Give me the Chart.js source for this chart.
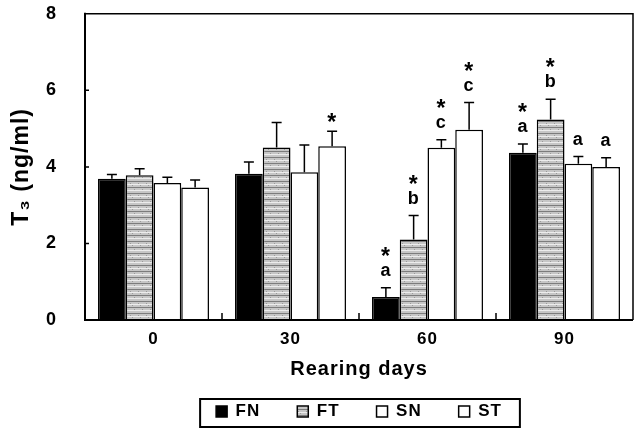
<!DOCTYPE html>
<html><head><meta charset="utf-8">
<script src="https://cdn.jsdelivr.net/npm/chart.js@4"></script>
<style>html,body{margin:0;padding:0;background:#fff}#wrap{width:635px;height:432px}</style>
</head><body><div id="wrap"><canvas id="c" width="635" height="432"></canvas></div>
<script>
const categories = ['0', '30', '60', '90'];
const seriesNames = ['FN', 'FT', 'SN', 'ST'];
const fnValues = [3.69, 3.82, 0.60, 4.37];
const ftValues = [3.78, 4.51, 2.10, 5.24];
const snValues = [3.58, 3.86, 4.50, 4.08];
const stValues = [3.46, 4.54, 4.97, 4.00];
const fnErrors = [0.11, 0.31, 0.24, 0.23];
const ftErrors = [0.17, 0.65, 0.63, 0.53];
const snErrors = [0.15, 0.71, 0.21, 0.19];
const stErrors = [0.20, 0.39, 0.71, 0.24];
const fnLetters = ['', '', 'a', 'a'];
const ftLetters = ['', '', 'b', 'b'];
const snLetters = ['', '', 'c', 'a'];
const stLetters = ['', '', 'c', 'a'];
const fnStars = [false, false, true, true];
const ftStars = [false, false, true, true];
const snStars = [false, false, true, false];
const stStars = [false, true, true, false];
const yTicks = [0, 2, 4, 6, 8];
const xTitle = 'Rearing days';
const yTitle = 'T₃ (ng/ml)';

const valueSets = [fnValues, ftValues, snValues, stValues];
const errorSets = [fnErrors, ftErrors, snErrors, stErrors];
const letterSets = [fnLetters, ftLetters, snLetters, stLetters];
const starSets = [fnStars, ftStars, snStars, stStars];

const FONT = "'Liberation Sans', Arial, sans-serif";
const canvas = document.getElementById('c');
const ctx = canvas.getContext('2d');

function makePattern(context) {
  const c = document.createElement('canvas');
  c.width = 8; c.height = 12;
  const g = c.getContext('2d');
  g.fillStyle = '#c6c6c6'; g.fillRect(0, 0, 8, 12);
  g.fillStyle = '#7c7c7c'; g.fillRect(0, 1, 8, 1); g.fillRect(0, 7, 8, 1);
  g.fillStyle = '#ececec'; g.fillRect(0, 4, 8, 1); g.fillRect(0, 10, 8, 1);
  g.fillStyle = '#9a9a9a'; g.fillRect(2, 3, 1, 1); g.fillRect(6, 9, 1, 1); g.fillRect(4, 5, 1, 1);
  return context.createPattern(c, 'repeat');
}
const ftPattern = makePattern(ctx);
const fills = ['#000000', ftPattern, '#ffffff', '#ffffff'];

const spacingPlugin = {
  id: 'spacing',
  beforeUpdate(chart) { chart.ctx.letterSpacing = '1px'; },
  beforeDraw(chart) { chart.ctx.letterSpacing = '1px'; }
};

const decorPlugin = {
  id: 'decor',
  afterDatasetsDraw(chart) {
    const c = chart.ctx;
    const y = chart.scales.y;
    c.save();
    c.strokeStyle = '#000'; c.fillStyle = '#000';
    c.lineWidth = 1.5;
    chart.data.datasets.forEach((ds, i) => {
      const meta = chart.getDatasetMeta(i);
      meta.data.forEach((bar, j) => {
        const top = y.getPixelForValue(valueSets[i][j] + errorSets[i][j]);
        c.beginPath();
        c.moveTo(bar.x, bar.y); c.lineTo(bar.x, top);
        c.moveTo(bar.x - 5, top); c.lineTo(bar.x + 5, top);
        c.stroke();
        c.textAlign = 'center'; c.textBaseline = 'alphabetic';
        let starCenter = top - 15;
        const base = top - 12;
        if (letterSets[i][j]) {
          c.font = 'bold 18px ' + FONT;
          c.fillText(letterSets[i][j], bar.x, base);
          starCenter = base - 25;
        }
        if (starSets[i][j]) {
          c.font = 'bold 23px ' + FONT;
          c.fillText('*', bar.x, starCenter + 13.3);
        }
      });
    });
    c.restore();
  },
  afterDraw(chart) {
    const c = chart.ctx;
    const a = chart.chartArea;
    const x = chart.scales.x, y = chart.scales.y;
    c.save();
    c.strokeStyle = '#000';
    c.lineWidth = 1.5;
    c.beginPath();
    c.moveTo(a.left, a.top); c.lineTo(a.right, a.top); c.lineTo(a.right, a.bottom);
    c.stroke();
    c.lineWidth = 2;
    c.beginPath();
    c.moveTo(a.left, a.top - 1); c.lineTo(a.left, a.bottom); c.lineTo(a.right, a.bottom);
    c.stroke();
    c.lineWidth = 1.5;
    c.beginPath();
    yTicks.forEach(v => {
      if (v > y.min && v < y.max) {
        const py = y.getPixelForValue(v);
        c.moveTo(a.left, py); c.lineTo(a.left + 4, py);
      }
    });
    const step = x.getPixelForValue(1) - x.getPixelForValue(0);
    for (let i = 0; i < categories.length - 1; i++) {
      const px = x.getPixelForValue(i) + step / 2;
      c.moveTo(px, a.bottom); c.lineTo(px, a.bottom - 7);
    }
    c.stroke();
    const lg = chart.legend;
    const hb = lg.legendHitBoxes;
    if (hb && hb.length) {
      const l = Math.min(...hb.map(h => h.left)) - 16;
      const r = Math.max(...hb.map(h => h.left + h.width)) + 18;
      const t = hb[0].top - 4;
      const b = hb[0].top + hb[0].height + 7;
      c.lineWidth = 2;
      c.strokeRect(l, t, r - l, b - t);
    }
    c.restore();
  }
};

new Chart(ctx, {
  type: 'bar',
  data: {
    labels: categories,
    datasets: seriesNames.map((name, i) => ({
      label: name,
      data: valueSets[i],
      backgroundColor: fills[i],
      borderColor: '#000',
      borderWidth: 1.5
    }))
  },
  options: {
    responsive: false,
    animation: false,
    devicePixelRatio: 1,
    layout: { padding: { left: 0, right: 2, top: 13, bottom: 2 } },
    datasets: { bar: { categoryPercentage: 0.81, barPercentage: 1 } },
    plugins: {
      legend: {
        position: 'bottom',
        fullSize: false,
        labels: {
          boxWidth: 11, boxHeight: 11, padding: 37, color: '#000',
          font: { family: FONT, size: 17, weight: 'bold' }
        }
      },
      tooltip: { enabled: false }
    },
    scales: {
      x: {
        grid: { display: false, drawTicks: false },
        border: { display: false },
        ticks: { color: '#000', padding: 9, font: { family: FONT, size: 17, weight: 'bold' } },
        title: {
          display: true, text: xTitle, color: '#000',
          font: { family: FONT, size: 20, weight: 'bold', lineHeight: 1.2 },
          padding: { top: 0, bottom: -15 }
        },
        afterFit(s) { s.height = 46; }
      },
      y: {
        min: 0, max: 8,
        grid: { display: false, drawTicks: true, tickLength: 25 },
        border: { display: false },
        afterBuildTicks(s) { s.ticks = yTicks.map(v => ({ value: v })); },
        ticks: { color: '#000', padding: 3, font: { family: FONT, size: 18, weight: 'bold' } },
        title: {
          display: true, text: yTitle, color: '#000',
          font: { family: FONT, size: 23, weight: 'bold', lineHeight: 1.2 },
          padding: { top: 8, bottom: 0 }
        },
        afterFit(s) { s.width = 85; }
      }
    }
  },
  plugins: [spacingPlugin, decorPlugin]
});
</script>
</body></html>
